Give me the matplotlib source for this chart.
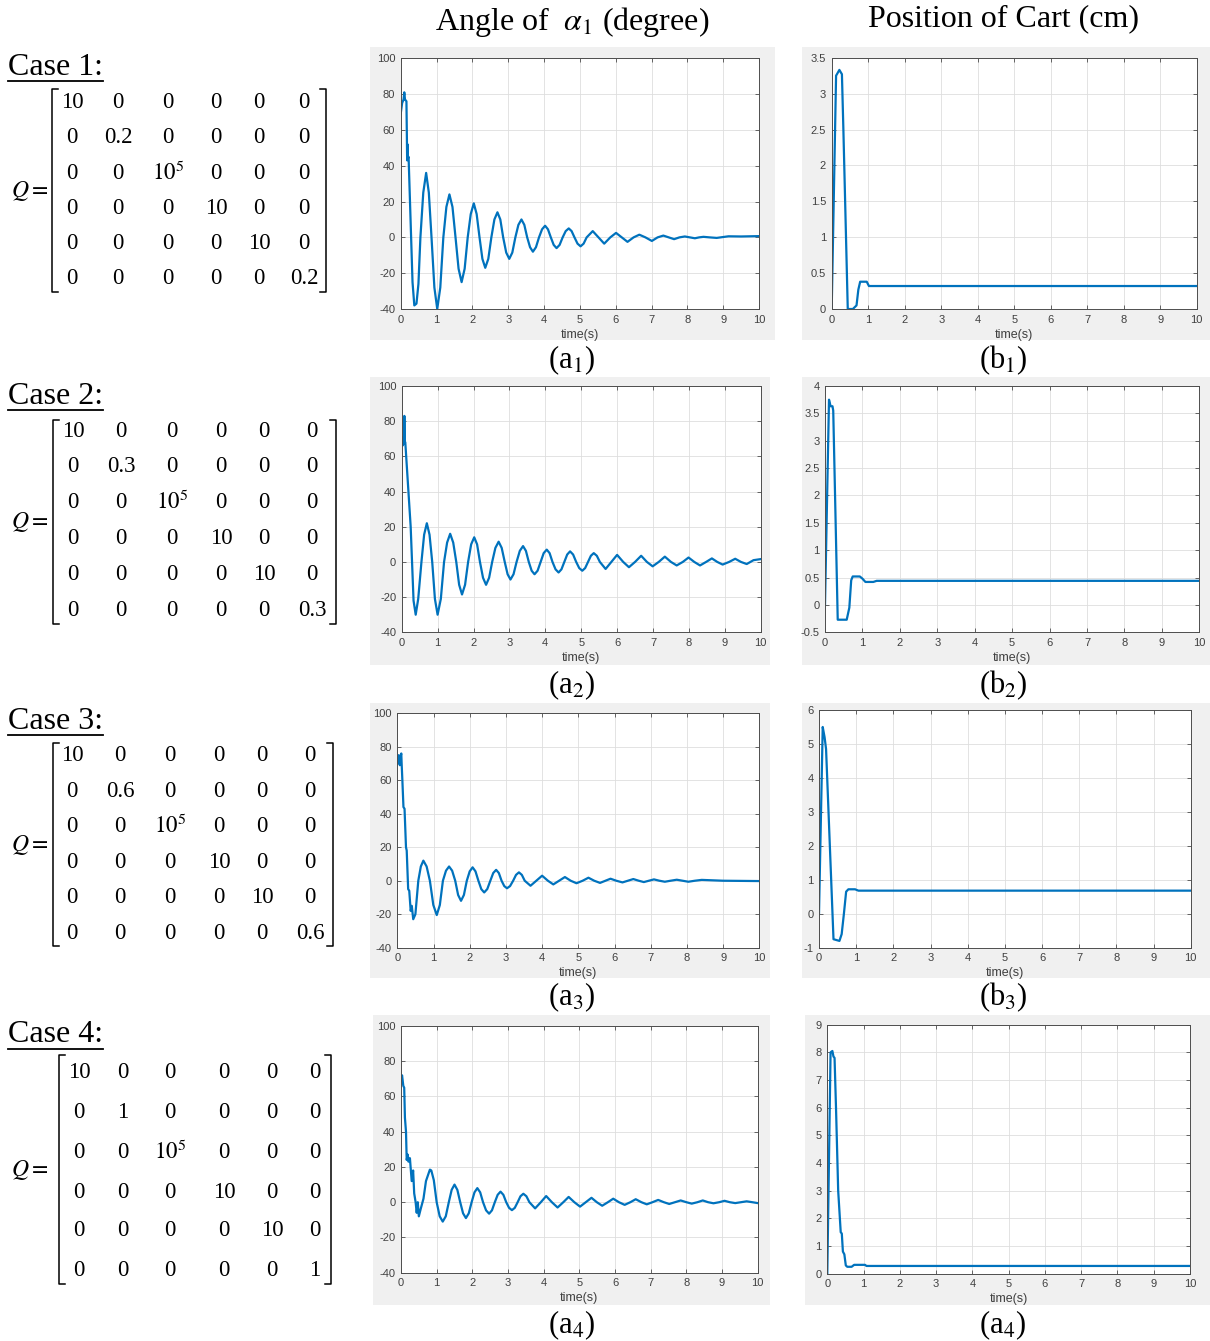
import matplotlib
matplotlib.use("Agg")
import matplotlib.pyplot as plt
from matplotlib.patches import Rectangle

plt.rcParams['font.family'] = ['Liberation Serif', 'DejaVu Serif']
plt.rcParams['mathtext.fontset'] = 'stix'

W, H = 1210, 1341

# ---- donnees ----
# angle alpha1 (degre), cas 1 a 4
a1_t = [0, 0.04, 0.08, 0.10, 0.12, 0.16, 0.17, 0.18, 0.19, 0.20,
        0.22, 0.33, 0.38, 0.44, 0.495, 0.55, 0.63, 0.71, 0.785, 0.86,
        0.94, 1.02, 1.105, 1.19, 1.275, 1.36, 1.445, 1.53, 1.615, 1.70,
        1.785, 1.87, 1.955, 2.04, 2.12, 2.20, 2.28, 2.36, 2.445, 2.53,
        2.615, 2.70, 2.78, 2.86, 2.945, 3.03, 3.115, 3.20, 3.285, 3.37,
        3.45, 3.53, 3.61, 3.69, 3.775, 3.86, 3.945, 4.03, 4.11, 4.19,
        4.27, 4.35, 4.435, 4.52, 4.605, 4.69, 4.77, 4.85, 4.935, 5.02,
        5.105, 5.19, 5.36, 5.52, 5.68, 5.85, 6.01, 6.17, 6.33, 6.50,
        6.66, 6.83, 7.01, 7.17, 7.33, 7.48, 7.63, 7.78, 7.93, 8.07,
        8.21, 8.33, 8.45, 8.62, 8.82, 9.00, 9.15, 9.50, 10.0]
a1_y = [69, 75, 77, 81, 77, 76, 60, 43, 52, 44,
        45, -25, -38, -37, -26, 0, 25, 36, 25, 0,
        -28, -40, -28, 0, 17, 24, 17, 0, -17.5, -25,
        -17.5, 0, 13, 19, 13, 0, -12, -17, -12, 0,
        10, 14, 10, 0, -8.5, -12, -8.5, 0, 7, 10,
        7, 0, -5.5, -8, -5.5, 0, 4.5, 6.5, 4.5, 0,
        -4.2, -6, -4.2, 0, 3.5, 5, 3.5, 0, -3.5, -5,
        -3.5, 0, 3.5, 0, -3.5, 0, 2.5, 0, -2.5, 0,
        1.5, 0, -2, 0, 1, 0, -1, 0, 0.5, 0,
        -0.5, 0, 0.3, 0, -0.3, 0.2, 0.6, 0.5, 0.7]

a2_t = [0, 0.02, 0.04, 0.06, 0.074, 0.09, 0.10, 0.25, 0.33, 0.39,
        0.46, 0.55, 0.625, 0.70, 0.775, 0.85, 0.925, 1.0, 1.09, 1.18,
        1.265, 1.35, 1.435, 1.52, 1.60, 1.68, 1.765, 1.85, 1.935, 2.02,
        2.10, 2.18, 2.265, 2.35, 2.435, 2.52, 2.61, 2.70, 2.785, 2.87,
        2.95, 3.03, 3.115, 3.20, 3.29, 3.38, 3.46, 3.54, 3.62, 3.70,
        3.785, 3.87, 3.955, 4.04, 4.12, 4.20, 4.285, 4.37, 4.45, 4.53,
        4.61, 4.69, 4.775, 4.86, 4.945, 5.03, 5.11, 5.19, 5.27, 5.35,
        5.435, 5.52, 5.68, 5.84, 6.00, 6.17, 6.33, 6.50, 6.67, 6.83,
        6.99, 7.16, 7.33, 7.50, 7.66, 7.83, 7.99, 8.15, 8.31, 8.48,
        8.64, 8.79, 8.94, 9.12, 9.29, 9.45, 9.61, 9.80, 10.0]
a2_y = [70, 66, 71, 67, 83, 68, 68, 20, -22, -30,
        -21, 0, 15.5, 22, 15.5, 0, -21, -30, -21, 0,
        11, 16, 11, 0, -13, -18.5, -13, 0, 10, 14,
        10, 0, -9, -13, -9, 0, 8, 11.5, 8, 0,
        -7, -10, -7, 0, 6.3, 9, 6.3, 0, -5, -7,
        -5, 0, 5, 7, 5, 0, -4.2, -6, -4.2, 0,
        4.2, 6, 4.2, 0, -3.5, -5, -3.5, 0, 3.5, 5,
        3.5, 0, -4, 0, 4, 0, -3, 0, 3.5, 0,
        -2.5, 0, 3, 0, -2, 0, 2.5, 0, -2, 0,
        2, 0, -1.5, 0, 1.8, 0, -1.2, 1.0, 1.6]

a3_t = [0, 0.04, 0.07, 0.09, 0.11, 0.12, 0.14, 0.17, 0.20, 0.24,
        0.26, 0.30, 0.33, 0.37, 0.40, 0.44, 0.50, 0.58, 0.65, 0.72,
        0.81, 0.90, 0.995, 1.09, 1.175, 1.26, 1.345, 1.43, 1.515, 1.60,
        1.68, 1.76, 1.84, 1.92, 2.0, 2.08, 2.16, 2.24, 2.32, 2.40,
        2.485, 2.57, 2.65, 2.73, 2.805, 2.88, 2.955, 3.03, 3.115, 3.20,
        3.28, 3.36, 3.44, 3.52, 3.68, 3.84, 4.00, 4.16, 4.31, 4.47,
        4.63, 4.79, 4.95, 5.12, 5.28, 5.44, 5.60, 5.75, 5.89, 6.05,
        6.22, 6.37, 6.52, 6.67, 6.81, 6.95, 7.09, 7.24, 7.39, 7.55,
        7.72, 7.88, 8.04, 8.22, 8.41, 9.0, 10.0]
a3_y = [70, 75, 69, 74, 76, 70, 60, 44, 43, 20,
        18, -5, -6, -18, -15, -23, -20, 0, 8.5, 12,
        8.5, 0, -14.5, -20.5, -14.5, 0, 6, 8.5, 6, 0,
        -8.5, -12, -8.5, 0, 5.6, 8, 5.6, 0, -5, -7,
        -5, 0, 4.6, 6.5, 4.6, 0, -3.2, -4.5, -3.2, 0,
        3.5, 5, 3.5, 0, -3, 0, 3, 0, -2.2, 0,
        2.2, 0, -1.5, 0, 1.8, 0, -1.3, 0, 1.2, 0,
        -1, 0, 1, 0, -0.8, 0, 0.8, 0, -0.6, 0,
        0.6, 0, -0.6, 0, 0.5, 0, -0.2]

a4_t = [0, 0.03, 0.065, 0.09, 0.11, 0.14, 0.16, 0.19, 0.21, 0.25,
        0.30, 0.34, 0.37, 0.41, 0.44, 0.47, 0.50, 0.55, 0.63, 0.70,
        0.81, 0.85, 0.92, 1.0, 1.085, 1.17, 1.255, 1.34, 1.42, 1.50,
        1.58, 1.66, 1.74, 1.82, 1.90, 1.98, 2.06, 2.14, 2.22, 2.30,
        2.385, 2.47, 2.55, 2.63, 2.71, 2.79, 2.87, 2.95, 3.03, 3.11,
        3.19, 3.27, 3.35, 3.43, 3.515, 3.60, 3.76, 3.92, 4.07, 4.23,
        4.39, 4.55, 4.70, 4.86, 5.02, 5.18, 5.34, 5.49, 5.64, 5.80,
        5.95, 6.11, 6.27, 6.43, 6.58, 6.74, 6.89, 7.05, 7.21, 7.37,
        7.52, 7.68, 7.84, 8.00, 8.15, 8.31, 8.46, 8.61, 8.76, 8.92,
        9.07, 9.22, 9.37, 9.53, 9.69, 9.85, 10.0]
a4_y = [69, 72, 66, 65, 48, 40, 24, 27, 23, 25,
        12, 18, 5, 0, -6, 0, -8, -4, 2, 12,
        18.5, 18, 12.5, 0, -8, -11, -8, 0, 7, 10,
        7, 0, -6.3, -9, -6.3, 0, 5.6, 8, 5.6, 0,
        -4.6, -6.5, -4.6, 0, 4.2, 6, 4.2, 0, -3.2, -4.5,
        -3.2, 0, 3.4, 4.8, 3.4, 0, -3.5, 0, 3.5, 0,
        -3, 0, 3, 0, -2.5, 0, 2.5, 0, -2, 0,
        2, 0, -1.5, 0, 1.7, 0, -1.2, 0, 1.3, 0,
        -1, 0, 1, 0, -0.8, 0, 1, 0, -0.6, 0,
        0.8, 0, -0.5, 0, 0.5, 0, -0.5]

# position du chariot (cm), cas 1 a 4
b1_t = [0, 0.12, 0.155, 0.21, 0.28, 0.32, 0.44, 0.58, 0.68, 0.73, 0.78, 0.96, 1.02, 10.0]
b1_y = [0, 3.25, 3.28, 3.33, 3.27, 2.5, 0, 0, 0.05, 0.27, 0.38, 0.38, 0.32, 0.32]

b2_t = [0, 0.107, 0.15, 0.20, 0.22, 0.34, 0.58, 0.65, 0.70, 0.74, 0.93, 1.0, 1.08, 1.29, 1.38, 10.0]
b2_y = [0, 3.75, 3.63, 3.63, 3.55, -0.27, -0.27, -0.05, 0.45, 0.52, 0.52, 0.48, 0.42, 0.42, 0.44, 0.44]

b3_t = [0, 0.10, 0.15, 0.19, 0.39, 0.55, 0.61, 0.67, 0.73, 0.79, 0.97, 1.06, 10.0]
b3_y = [0, 5.5, 5.2, 4.85, -0.75, -0.8, -0.6, 0, 0.65, 0.72, 0.72, 0.68, 0.68]

b4_t = [0, 0.09, 0.14, 0.17, 0.20, 0.24, 0.30, 0.37, 0.40, 0.43, 0.47, 0.51, 0.55, 0.67, 0.74,
        1.04, 1.08, 10.0]
b4_y = [0, 8.0, 8.05, 7.85, 7.8, 6.0, 3.0, 1.5, 1.45, 0.8, 0.7, 0.3, 0.25, 0.25, 0.32,
        0.32, 0.28, 0.28]

# matrices Q : seul le poids de la vitesse change
q_weights = ['0.2', '0.3', '0.6', '1']
case_names = ['Case 1:', 'Case 2:', 'Case 3:', 'Case 4:']
panel_labels = [('(a$_1$)', '(b$_1$)'), ('(a$_2$)', '(b$_2$)'), ('(a$_3$)', '(b$_3$)'), ('(a$_4$)', '(a$_4$)')]

angle_yticks = [-40, -20, 0, 20, 40, 60, 80, 100]
cart_yticks = [
    [0, 0.5, 1, 1.5, 2, 2.5, 3, 3.5],
    [-0.5, 0, 0.5, 1, 1.5, 2, 2.5, 3, 3.5, 4],
    [-1, 0, 1, 2, 3, 4, 5, 6],
    [0, 1, 2, 3, 4, 5, 6, 7, 8, 9],
]
time_ticks = list(range(0, 11))

angles = [(a1_t, a1_y), (a2_t, a2_y), (a3_t, a3_y), (a4_t, a4_y)]
carts = [(b1_t, b1_y), (b2_t, b2_y), (b3_t, b3_y), (b4_t, b4_y)]

# ---- mise en page (pixels) ----
# boites grises (gauche, droite, haut, bas) et zones des axes
grey_a = [(370, 775, 47, 340), (370, 770, 377, 665), (370, 770, 703, 978), (373, 770, 1015, 1305)]
grey_b = [(802, 1210, 47, 340), (802, 1210, 377, 665), (802, 1210, 703, 978), (805, 1210, 1015, 1305)]
box_a = [(400.7, 759, 58.3, 309), (401.7, 760.7, 386, 632.3), (397.3, 759.3, 713.3, 947.7), (401, 757.7, 1026, 1272.7)]
box_b = [(831.7, 1196.7, 57.7, 309), (825, 1199.3, 386, 632.3), (819, 1190.7, 710, 947.7), (827.3, 1190, 1024.7, 1273.7)]
label_y = [360, 685, 997, 1325]

case_y = [67, 396, 721, 1035]
col_x = [[72, 118, 168, 216, 259, 304], [73, 121, 172, 221, 264, 312],
         [72, 120, 170, 219, 262, 310], [79, 123, 170, 224, 272, 315]]
row_y = [[102, 137, 173, 208, 243, 278], [431, 466, 502, 538, 574, 610],
         [755, 791, 826, 862, 897, 933], [1072, 1112, 1152, 1192, 1231, 1271]]
brackets = [(52, 326, 89, 292), (53, 336, 420, 624), (53, 333, 743, 946), (59, 331, 1055, 1284)]

fig = plt.figure(figsize=(W / 100, H / 100), dpi=100)
fig.patch.set_facecolor('white')

bg = fig.add_axes([0, 0, 1, 1], zorder=0)
bg.set_xlim(0, W)
bg.set_ylim(H, 0)
bg.axis('off')

for l, r, t, b in grey_a + grey_b:
    bg.add_patch(Rectangle((l, t), r - l, b - t, facecolor='#f0f0f0', edgecolor='none'))

# titres des colonnes
bg.text(572, 22, r'Angle of  $\alpha_1$ (degree)', fontsize=23, ha='center', va='center')
bg.text(1003, 19, 'Position of Cart (cm)', fontsize=23, ha='center', va='center')

# matrices Q
for k in range(4):
    bg.text(8, case_y[k], case_names[k], fontsize=23, ha='left', va='center')
    bg.plot([8, 103], [case_y[k] + 14, case_y[k] + 14], color='black', lw=1.3)
    diag = ['10', q_weights[k], '$10^5$', '10', '10', q_weights[k]]
    for i in range(6):
        for j in range(6):
            s = diag[i] if i == j else '0'
            bg.text(col_x[k][j], row_y[k][i], s, fontsize=16.5, ha='center', va='center')
    xl, xr, yt, yb = brackets[k]
    bg.plot([xl + 6, xl, xl, xl + 6], [yt, yt, yb, yb], color='black', lw=1.1)
    bg.plot([xr - 6, xr, xr, xr - 6], [yt, yt, yb, yb], color='black', lw=1.1)
    bg.text(30, (yt + yb) / 2, '$Q=$', fontsize=17, ha='center', va='center')


def to_fig(box):
    l, r, t, b = box
    return [l / W, 1 - b / H, (r - l) / W, (b - t) / H]


def style(ax, yticks):
    ax.set_xlim(0, 10)
    ax.set_ylim(yticks[0], yticks[-1])
    ax.set_xticks(time_ticks)
    ax.set_yticks(yticks)
    ax.set_yticklabels(['%g' % v for v in yticks])
    ax.grid(True, color='#dedede', lw=0.6)
    ax.set_axisbelow(True)
    ax.tick_params(direction='in', length=3, width=0.6, top=True, right=True,
                   labelsize=8, labelcolor='#404040', color='#4d4d4d', pad=4)
    for lab in ax.get_xticklabels() + ax.get_yticklabels():
        lab.set_family('Liberation Sans')
    for sp in ax.spines.values():
        sp.set_color('#4d4d4d')
        sp.set_linewidth(0.7)
    ax.set_xlabel('time(s)', fontsize=9, family='Liberation Sans', color='#404040', labelpad=3)


for k in range(4):
    ax = fig.add_axes(to_fig(box_a[k]), zorder=2)
    ax.plot(angles[k][0], angles[k][1], color='#0072BD', lw=1.6)
    style(ax, angle_yticks)

    ax = fig.add_axes(to_fig(box_b[k]), zorder=2)
    ax.plot(carts[k][0], carts[k][1], color='#0072BD', lw=1.6)
    style(ax, cart_yticks[k])

    bg.text(572, label_y[k], panel_labels[k][0], fontsize=22, ha='center', va='center')
    bg.text(1003, label_y[k], panel_labels[k][1], fontsize=22, ha='center', va='center')

fig.savefig('out.png', dpi=100)
